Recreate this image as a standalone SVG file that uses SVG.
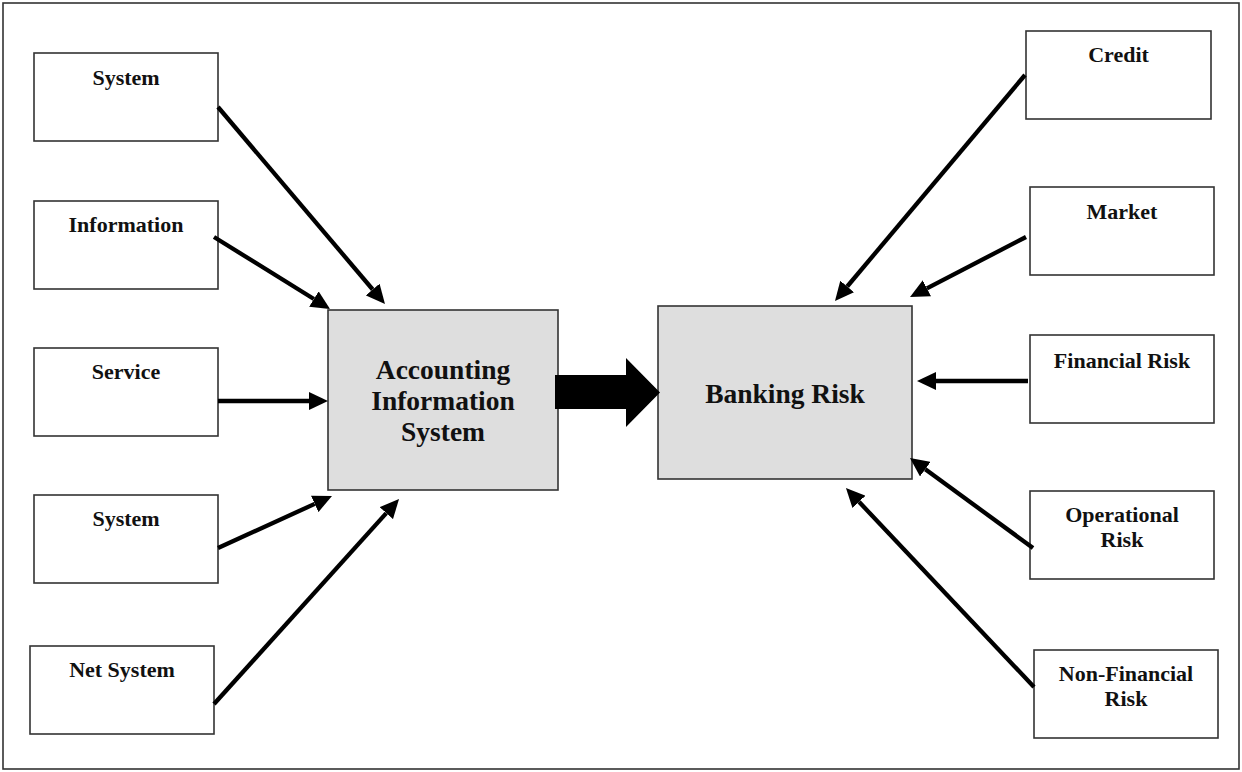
<svg xmlns="http://www.w3.org/2000/svg" width="1242" height="772" viewBox="0 0 1242 772">
<style>
.box{fill:#fff;stroke:#333;stroke-width:1.6}
.main{fill:#dedede;stroke:#333;stroke-width:1.6}
.t{font-family:"Liberation Serif","Times New Roman",serif;font-weight:bold;font-size:22px;text-anchor:middle;fill:#111}
.tm{font-family:"Liberation Serif","Times New Roman",serif;font-weight:bold;font-size:27.5px;text-anchor:middle;fill:#111}
.c{stroke:#000;stroke-width:4.3;fill:none;marker-end:url(#ah)}
</style>
<defs>
<marker id="ah" markerWidth="19" markerHeight="18" viewBox="0 -9 19 18" refX="0" refY="0" orient="auto" markerUnits="userSpaceOnUse"><path d="M0,-9 L19,0 L0,9 z" fill="#000"/></marker>
</defs>
<rect x="0" y="0" width="1242" height="772" fill="#fff"/>
<rect x="3" y="3" width="1236" height="766" fill="none" stroke="#333" stroke-width="1.6"/>
<g id="n-system1"><rect class="box" x="34" y="53" width="184" height="88"/><text class="t" x="126" y="85">System</text></g>
<g id="n-information"><rect class="box" x="34" y="201" width="184" height="88"/><text class="t" x="126" y="232">Information</text></g>
<g id="n-service"><rect class="box" x="34" y="348" width="184" height="88"/><text class="t" x="126" y="379">Service</text></g>
<g id="n-system2"><rect class="box" x="34" y="495" width="184" height="88"/><text class="t" x="126" y="526">System</text></g>
<g id="n-netsystem"><rect class="box" x="30" y="646" width="184" height="88"/><text class="t" x="122" y="677">Net System</text></g>
<g id="n-ais"><rect class="main" x="328" y="310" width="230" height="180"/><text class="tm" x="443" y="379">Accounting</text><text class="tm" x="443" y="410">Information</text><text class="tm" x="443" y="441">System</text></g>
<g id="n-banking"><rect class="main" x="658" y="306" width="254" height="173"/><text class="tm" x="785" y="403">Banking Risk</text></g>
<g id="n-credit"><rect class="box" x="1026" y="31" width="185" height="88"/><text class="t" x="1118.5" y="62">Credit</text></g>
<g id="n-market"><rect class="box" x="1030" y="187" width="184" height="88"/><text class="t" x="1122" y="219">Market</text></g>
<g id="n-financial"><rect class="box" x="1030" y="335" width="184" height="88"/><text class="t" x="1122" y="368">Financial Risk</text></g>
<g id="n-operational"><rect class="box" x="1030" y="491" width="184" height="88"/><text class="t" x="1122" y="522">Operational</text><text class="t" x="1122" y="547">Risk</text></g>
<g id="n-nonfinancial"><rect class="box" x="1034" y="650" width="184" height="88"/><text class="t" x="1126" y="681">Non-Financial</text><text class="t" x="1126" y="706">Risk</text></g>
<g id="connectors">
<line class="c" x1="218" y1="107" x2="372.7" y2="289.5"/>
<line class="c" x1="214" y1="237" x2="313.9" y2="299"/>
<line class="c" x1="218" y1="401" x2="309" y2="401"/>
<line class="c" x1="218" y1="548" x2="314.7" y2="503.9"/>
<line class="c" x1="214" y1="704" x2="386.3" y2="513.1"/>
<line class="c" x1="1025" y1="75" x2="847.2" y2="286.5"/>
<line class="c" x1="1026" y1="237" x2="926.9" y2="288.3"/>
<line class="c" x1="1028" y1="381" x2="936" y2="381"/>
<line class="c" x1="1033" y1="548" x2="925.3" y2="469.2"/>
<line class="c" x1="1034" y1="687" x2="859" y2="501.8"/>
<polygon points="555,375 626,375 626,358 660,392.5 626,427 626,409 555,409" fill="#000"/>
</g>
</svg>
